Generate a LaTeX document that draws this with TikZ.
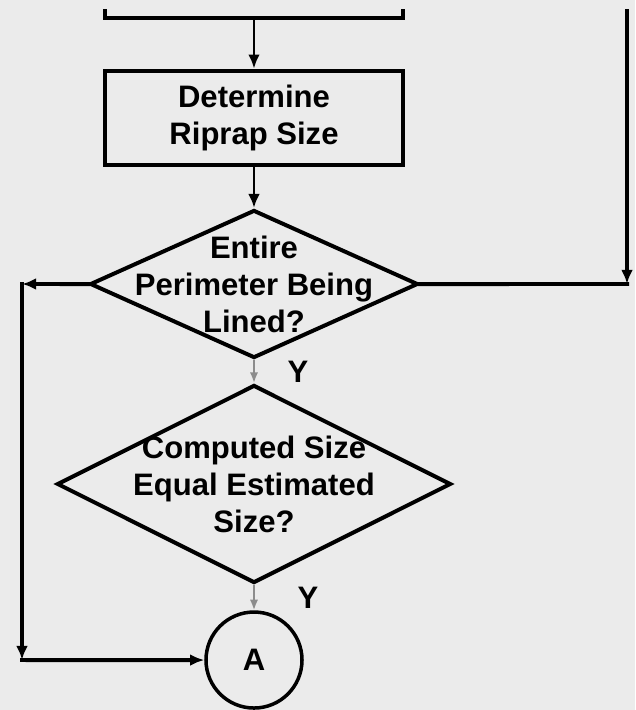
\documentclass[tikz,border=0pt]{standalone}
\usepackage{fontspec}
\setmainfont{Liberation Sans}
\usetikzlibrary{shapes.geometric, arrows.meta}
\definecolor{paper}{gray}{0.92}

\begin{document}
\begin{tikzpicture}[x = 0.03cm, y = -0.03cm,
    font = \fontsize{26.5}{31.5}\selectfont\bfseries,
    >= {Latex[length=12pt, width=10pt]},
    box/.style = {draw, line width = 4pt, minimum width = 8.94cm, minimum height = 2.82cm, align = center},
    decision/.style = {diamond, draw, line width = 3.4pt, inner sep = 0pt},
    txt/.style = {anchor = center, align = center},
    conn/.style = {line width = 3.4pt, line cap = rect},
    flow/.style = {line width = 2.4pt},
    pass/.style = {line width = 1.6pt, black!45, -{Latex[length=9pt, width=7pt]}}]
    \useasboundingbox (0,0) rectangle (635,710);
    \fill[paper] (0,0) rectangle (635,710);

  \begin{scope}
    \clip (0,10) rectangle (635,710);
    \node[box] (prev) at (254,-29) {};
    \node[box] (det) [below of = prev, node distance = 4.41cm] {Determine\\Riprap Size};
    \node[decision, minimum width = 9.84cm, minimum height = 4.44cm,
      label = {[txt]center:{Entire\\Perimeter Being\\Lined?}}] (d1) [below of = det, node distance = 4.98cm] {};
    \node[decision, minimum width = 11.82cm, minimum height = 5.94cm,
      label = {[txt]center:{Computed Size\\Equal Estimated\\Size?}}] (d2) [below of = d1, node distance = 6cm] {};
    \node[circle, draw, line width = 3pt, minimum size = 2.88cm] (A) [below of = d2, node distance = 5.28cm] {A};

    \coordinate (cr0) at (627,10);
    \coordinate (cr1) at (627,284);
    \coordinate (cl1) at (22,284);
    \coordinate (cl2) at (22,660);

    \draw[flow, ->] (prev) edge (det);
    \draw[flow, ->] (det) edge (d1);
    \draw[pass] (d1) edge node[right = 0.86cm, text = black]{Y} (d2);
    \draw[pass] (d2) edge node[right = 1.16cm, text = black]{Y} (A);

    \draw[conn, ->] (cr0) -- (cr1);
    \draw[conn] (cr1) -- (d1.east);
    \draw[conn, ->] (d1.west) -- (cl1);
    \draw[conn, ->] (cl1) -- (cl2);
    \draw[conn, ->] (cl2) -- (A);
  \end{scope}
\end{tikzpicture}
\end{document}
